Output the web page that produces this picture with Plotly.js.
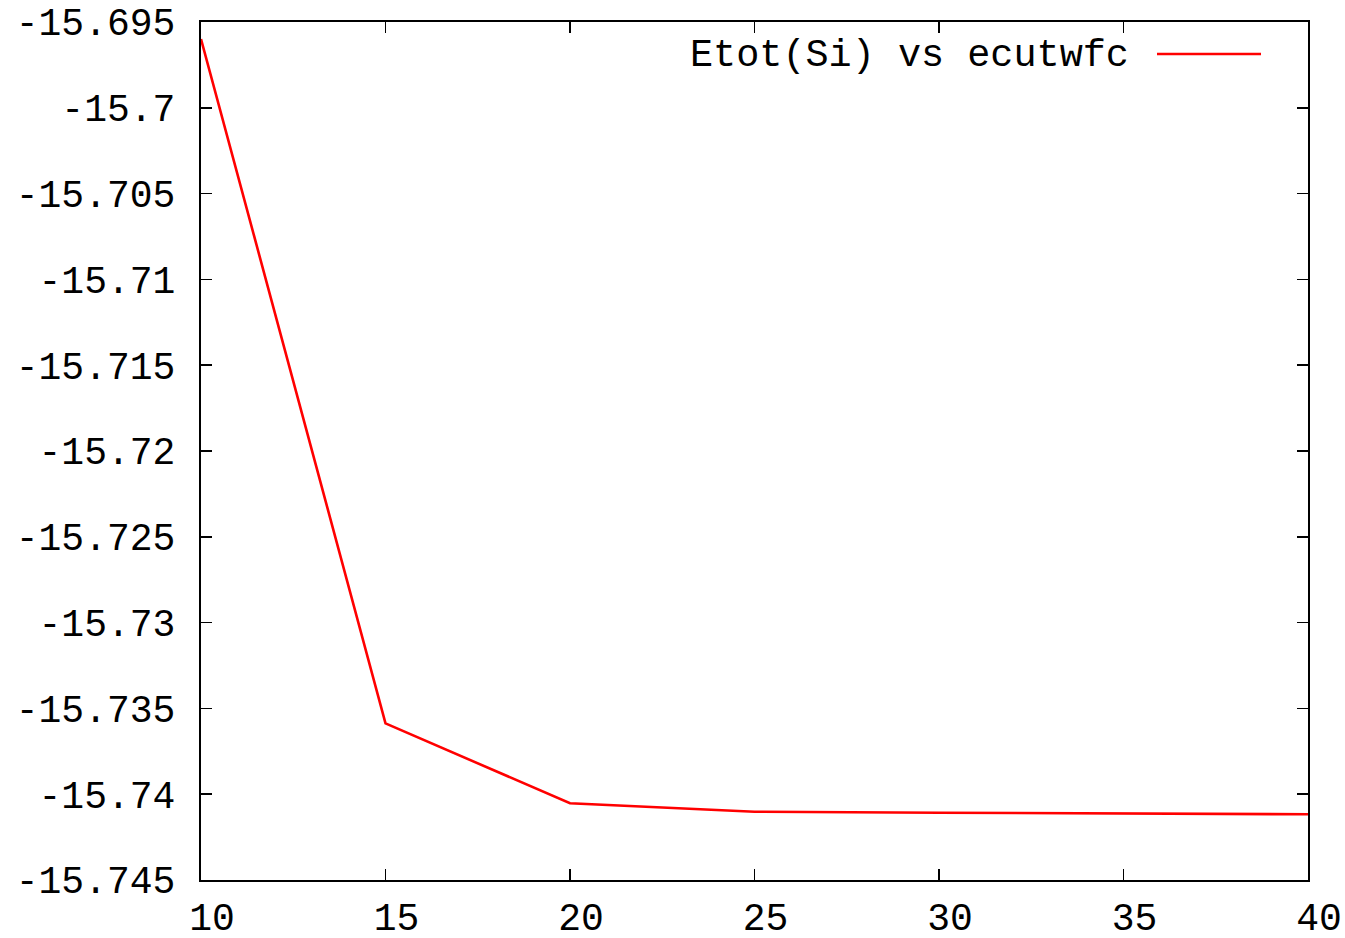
<!DOCTYPE html>
<html>
<head>
<meta charset="utf-8">
<script src="https://cdn.plot.ly/plotly-3.0.1.min.js"></script>
<style>html,body{margin:0;padding:0;background:#fff;}#chart{width:1345px;height:938px;}</style>
</head>
<body>
<div id="chart"></div>
<script>
const ecutwfc = [10, 15, 20, 25, 30, 35, 40];
const etot = [-15.69599, -15.73587, -15.74053, -15.74102, -15.74108, -15.74114, -15.74117];
const seriesName = "Etot(Si) vs ecutwfc";
const xTickVals = [10, 15, 20, 25, 30, 35, 40];
const xTickText = ["10", "15", "20", "25", "30", "35", "40"];
const yTickVals = [-15.695, -15.7, -15.705, -15.71, -15.715, -15.72, -15.725, -15.73, -15.735, -15.74, -15.745];
const yTickText = ["-15.695", "-15.7", "-15.705", "-15.71", "-15.715", "-15.72", "-15.725", "-15.73", "-15.735", "-15.74", "-15.745"];

const font = {family: "Liberation Mono, DejaVu Sans Mono, monospace", size: 38, color: "#000"};

const trace = {
  x: ecutwfc, y: etot, type: "scatter", mode: "lines",
  name: seriesName, showlegend: false,
  line: {color: "#ff0000", width: 2.6}
};

const axisCommon = {
  showgrid: false, zeroline: false, showline: true, linecolor: "#000", linewidth: 2,
  mirror: "allticks", ticks: "inside", ticklen: 11, tickwidth: 1.5, tickcolor: "#000",
  tickfont: font, tickmode: "array"
};

const layout = {
  width: 1345, height: 938,
  margin: {l: 201, r: 37, t: 22, b: 58, pad: 0},
  paper_bgcolor: "#fff", plot_bgcolor: "#fff",
  xaxis: Object.assign({}, axisCommon, {range: [10, 40], tickvals: xTickVals, ticktext: xTickText, ticklabelstandoff: 2, ticklabelshift: 11}),
  yaxis: Object.assign({}, axisCommon, {range: [-15.745, -15.695], tickvals: yTickVals, ticktext: yTickText, ticklabelstandoff: 16}),
  annotations: [{
    xref: "paper", yref: "paper", x: (1131 - 201) / 1107, y: (880 - 56) / 858,
    xanchor: "right", yanchor: "middle", text: seriesName, showarrow: false,
    font: Object.assign({}, font, {size: 38.5})
  }],
  shapes: [{
    type: "line", xref: "paper", yref: "paper",
    x0: (1157 - 201) / 1107, x1: (1261 - 201) / 1107,
    y0: (880 - 54) / 858, y1: (880 - 54) / 858,
    line: {color: "#ff0000", width: 2.6}
  }]
};

Plotly.newPlot("chart", [trace], layout, {displayModeBar: false, staticPlot: true});
</script>
</body>
</html>
